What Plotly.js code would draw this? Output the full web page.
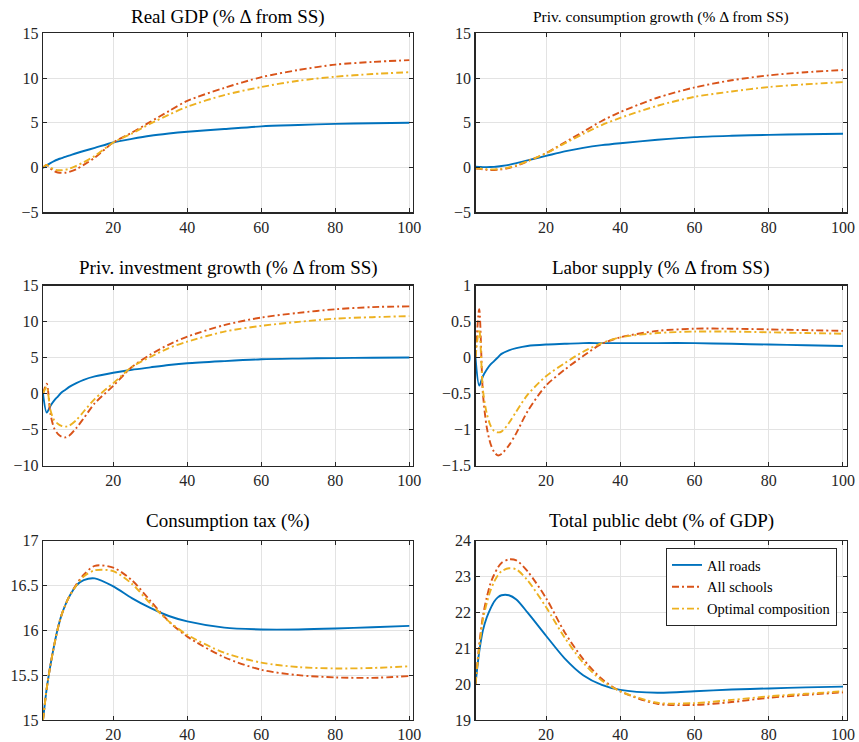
<!DOCTYPE html>
<html>
<head>
<meta charset="utf-8">
<script src="https://cdn.plot.ly/plotly-3.0.1.min.js"></script>
<style>html,body{margin:0;padding:0;background:#fff;}#chart{width:859px;height:742px;}</style>
</head>
<body>
<div id="chart"></div>
<script>
// ---- data ----
const periods = [1,2,3,4,5,6,7,8,10,12,15,20,25,30,35,40,50,60,70,80,90,100];
const seriesNames = ["All roads", "All schools", "Optimal composition"];
const panelTitles = ["Real GDP (% Δ from SS)", "Priv. consumption growth (% Δ from SS)",
  "Priv. investment growth (% Δ from SS)", "Labor supply (% Δ from SS)",
  "Consumption tax (%)", "Total public debt (% of GDP)"];

// Real GDP
const gdpRoads   = [-0.05,0.25,0.5,0.72,0.9,1.05,1.2,1.33,1.6,1.85,2.2,2.8,3.2,3.55,3.8,4.0,4.3,4.6,4.75,4.88,4.95,5.0];
const gdpSchools = [0,0.3,-0.1,-0.4,-0.55,-0.6,-0.58,-0.5,-0.2,0.3,1.1,2.8,3.9,5.1,6.3,7.45,8.9,10.1,10.9,11.5,11.8,12.0];
const gdpOptimal = [0,0.3,0,-0.2,-0.3,-0.3,-0.25,-0.15,0.2,0.6,1.3,2.8,3.8,4.9,5.9,6.8,8.1,9.0,9.7,10.15,10.45,10.65];
// Private consumption
const consRoads   = [0.1,0.08,0.05,0.05,0.06,0.08,0.12,0.17,0.3,0.5,0.8,1.3,1.8,2.2,2.5,2.72,3.1,3.4,3.55,3.65,3.72,3.78];
const consSchools = [-0.1,-0.15,-0.2,-0.25,-0.27,-0.27,-0.25,-0.2,-0.05,0.2,0.7,1.6,2.8,4.0,5.2,6.2,7.8,8.95,9.75,10.3,10.65,10.9];
const consOptimal = [-0.05,-0.1,-0.15,-0.18,-0.2,-0.2,-0.18,-0.13,0.0,0.25,0.7,1.6,2.7,3.75,4.75,5.55,6.9,7.9,8.5,9.0,9.3,9.55];
// Private investment
const invRoads   = [0,-2.65,-1.72,-0.98,-0.42,0.14,0.5,0.88,1.44,1.9,2.37,2.88,3.3,3.63,3.95,4.2,4.5,4.75,4.85,4.92,4.97,5.0];
const invSchools = [0,1.35,-2.8,-4.8,-5.6,-6.0,-6.1,-5.9,-4.8,-3.45,-1.35,1.07,3.67,5.4,6.8,7.9,9.5,10.55,11.2,11.7,12.0,12.1];
const invOptimal = [0,0.9,-2.3,-3.7,-4.2,-4.5,-4.6,-4.5,-3.7,-2.5,-0.75,1.44,3.67,5.07,6.3,7.2,8.6,9.4,9.95,10.4,10.6,10.75];
// Labor supply
const labRoads   = [0,-0.39,-0.26,-0.17,-0.1,-0.05,0.0,0.05,0.1,0.13,0.16,0.18,0.19,0.2,0.2,0.2,0.2,0.2,0.19,0.18,0.17,0.16];
const labSchools = [0,0.67,-0.5,-0.96,-1.19,-1.31,-1.36,-1.34,-1.22,-1.05,-0.75,-0.39,-0.17,0.02,0.19,0.28,0.37,0.4,0.4,0.39,0.38,0.37];
const labOptimal = [0,0.39,-0.45,-0.77,-0.94,-1.02,-1.04,-1.03,-0.91,-0.75,-0.52,-0.26,-0.08,0.08,0.2,0.28,0.34,0.36,0.36,0.35,0.34,0.33];
// Consumption tax
const taxRoads   = [15.0,15.35,15.61,15.83,16.02,16.17,16.28,16.37,16.5,16.56,16.58,16.49,16.36,16.25,16.16,16.1,16.03,16.01,16.01,16.02,16.035,16.05];
const taxSchools = [15.0,15.35,15.61,15.83,16.02,16.17,16.28,16.37,16.51,16.62,16.72,16.7,16.56,16.33,16.1,15.93,15.7,15.56,15.5,15.475,15.47,15.49];
const taxOptimal = [15.0,15.35,15.61,15.83,16.02,16.17,16.28,16.37,16.5,16.6,16.67,16.66,16.52,16.3,16.1,15.95,15.75,15.64,15.59,15.575,15.58,15.6];
// Total public debt
const debtRoads   = [20,20.9,21.5,21.85,22.1,22.3,22.42,22.48,22.48,22.36,22.0,21.35,20.72,20.25,19.98,19.84,19.76,19.8,19.85,19.88,19.91,19.93];
const debtSchools = [20,21.1,21.9,22.4,22.8,23.05,23.25,23.38,23.48,23.45,23.15,22.4,21.45,20.7,20.15,19.8,19.45,19.42,19.5,19.62,19.7,19.77];
const debtOptimal = [20,21.0,21.8,22.25,22.6,22.85,23.03,23.15,23.23,23.2,22.9,22.15,21.3,20.6,20.1,19.8,19.48,19.47,19.56,19.66,19.73,19.8];

const xTicks = [20,40,60,80,100];
const yRanges = [[-5,15],[-5,15],[-10,15],[-1.5,1],[15,17],[19,24]];
const yDticks = [5,5,5,0.5,0.5,1];

// ---- styling ----
const colors = ["#0072BD", "#D95319", "#EDB120"];
const dashes = ["solid", "7px,3px,2px,3px", "7px,3px,2px,3px"];
const FONT = "Liberation Serif, Times New Roman, serif";

const panels = [
  [gdpRoads, gdpSchools, gdpOptimal],
  [consRoads, consSchools, consOptimal],
  [invRoads, invSchools, invOptimal],
  [labRoads, labSchools, labOptimal],
  [taxRoads, taxSchools, taxOptimal],
  [debtRoads, debtSchools, debtOptimal]
];

const W = 859, H = 742;
const xDom = [[43/W, 413/W], [475.5/W, 846.7/W]];
const rowPx = [[33.3, 212.3], [285.5, 465.5], [540.7, 720]];
const titleY = [17, 268, 521];
const titleSize = [19, 15.5, 19, 19, 19, 19];

const traces = [];
const layout = {
  width: W, height: H,
  margin: {l:0, r:0, t:0, b:0},
  paper_bgcolor: "#fff", plot_bgcolor: "#fff",
  font: {family: FONT, color: "#262626", size: 16},
  showlegend: true,
  legend: {
    x: 837/W, y: 1 - 548/H, xanchor: "right", yanchor: "top",
    bgcolor: "#fff", bordercolor: "#262626", borderwidth: 1,
    font: {family: FONT, size: 14.5, color: "#000"},
    tracegroupgap: 0, itemwidth: 30
  },
  annotations: []
};

panels.forEach((series, p) => {
  const row = Math.floor(p / 2), col = p % 2;
  const sfx = p === 0 ? "" : String(p + 1);
  series.forEach((vals, s) => {
    traces.push({
      x: periods, y: vals, type: "scatter", mode: "lines",
      name: seriesNames[s],
      xaxis: "x" + sfx, yaxis: "y" + sfx,
      showlegend: p === 5,
      line: {color: colors[s], width: 1.9, dash: dashes[s], shape: "spline", smoothing: 0.8}
    });
  });
  const yd = [1 - rowPx[row][1]/H, 1 - rowPx[row][0]/H];
  layout["xaxis" + sfx] = {
    domain: xDom[col], anchor: "y" + sfx, range: [1, 101],
    tickvals: xTicks, ticks: "inside", ticklen: 4, tickcolor: "#262626",
    showgrid: true, gridcolor: "#e3e3e3", gridwidth: 1,
    showline: true, linecolor: "#262626", linewidth: 1.2, mirror: "ticks",
    zeroline: false, tickfont: {family: FONT, size: 16, color: "#262626"}
  };
  layout["yaxis" + sfx] = {
    domain: yd, anchor: "x" + sfx, range: yRanges[p], dtick: yDticks[p], tick0: 0,
    ticks: "inside", ticklen: 4, tickcolor: "#262626",
    showgrid: true, gridcolor: "#e3e3e3", gridwidth: 1,
    showline: true, linecolor: "#262626", linewidth: 1.2, mirror: "ticks",
    zeroline: false, tickfont: {family: FONT, size: 16, color: "#262626"}
  };
  layout.annotations.push({
    text: panelTitles[p], xref: "paper", yref: "paper",
    x: (xDom[col][0] + xDom[col][1]) / 2, y: 1 - titleY[row]/H,
    xanchor: "center", yanchor: "middle", showarrow: false,
    font: {family: FONT, size: titleSize[p], color: "#000"}
  });
});

Plotly.newPlot("chart", traces, layout, {displayModeBar: false, staticPlot: true});
</script>
</body>
</html>
